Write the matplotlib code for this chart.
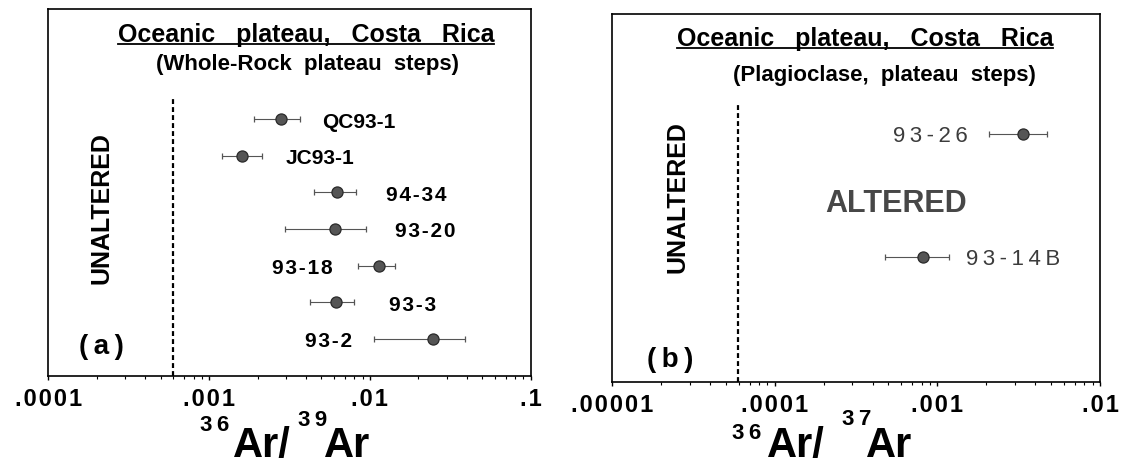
# Oceanic plateau, Costa Rica - 36Ar/39Ar and 36Ar/37Ar of plateau steps

import matplotlib.pyplot as plt
from matplotlib import font_manager
from matplotlib.lines import Line2D
from matplotlib.ticker import NullFormatter

# panel (a): whole-rock plateau steps, 36Ar/39Ar
samples_a = ['QC93-1', 'JC93-1', '94-34', '93-20', '93-18', '93-3', '93-2']
ratio_a = [0.00280, 0.00160, 0.00627, 0.00607, 0.0114, 0.00613, 0.0248]
low_a = [0.00190, 0.00120, 0.00449, 0.00298, 0.00847, 0.00424, 0.0106]
high_a = [0.00368, 0.00212, 0.00819, 0.00942, 0.0143, 0.00796, 0.0392]
row_a = [7, 6, 5, 4, 3, 2, 1]

# panel (b): plagioclase plateau steps, 36Ar/37Ar
samples_b = ['93-26', '93-14B']
ratio_b = [0.00337, 0.000818]
low_b = [0.00207, 0.000475]
high_b = [0.00469, 0.00118]
row_b = [6.75, 3.4]

# unaltered limit (dashed line)
limit_a = 5.95e-4
limit_b = 5.9e-5

ticks_a = [1e-4, 1e-3, 1e-2, 1e-1]
ticklabels_a = ['.0001', '.001', '.01', '.1']
ticks_b = [1e-5, 1e-4, 1e-3, 1e-2]
ticklabels_b = ['.00001', '.0001', '.001', '.01']

# where each sample name sits (side of the error bar, gap in px)
side_a = ['right', 'right', 'right', 'right', 'left', 'right', 'left']
gap_a = [22, 24, 30, 29, 26, 35, 22]
side_b = ['left', 'right']
gap_b = [21, 17]

plt.rcParams['font.family'] = ['Liberation Sans', 'DejaVu Sans']

W, H = 1125, 464
fig = plt.figure(figsize=(W / 100, H / 100), dpi=100)


def fx(px):
    return px / W


def fy(py):
    return 1 - py / H


def spaced(s, sp='\u2009'):
    return sp.join(s)


def hair(s):
    # letter spacing for numeric labels only
    return spaced(s, '\u200a') if s[0].isdigit() or s[0] == '.' else s


fonts = {f.name for f in font_manager.fontManager.ttflist}
if 'Liberation Sans Narrow' in fonts:
    narrow, narrow_size = 'Liberation Sans Narrow', 22
else:
    narrow, narrow_size = 'Liberation Sans', 18


def panel(ax, names, vals, lo, hi, rows, sides, gaps, ticks, labels, limit,
          bold_names):
    xerr = [[v - l for v, l in zip(vals, lo)], [h - v for v, h in zip(vals, hi)]]
    ax.errorbar(vals, rows, xerr=xerr, fmt='o', ms=8, mfc='#555555',
                mec='#2a2a2a', mew=0.9, ecolor='#555555', elinewidth=0.8,
                capsize=2.2, capthick=0.8)
    for name, v, l, h, r, sd, g in zip(names, vals, lo, hi, rows, sides, gaps):
        if bold_names:
            kw = dict(fontsize=15, fontweight='bold', color='black')
            txt = hair(name)
        else:
            kw = dict(fontsize=16, color='#3c3c3c')
            txt = spaced(name)
        if sd == 'right':
            ax.annotate(txt, (h, r), xytext=(g * 0.72, -1.5),
                        textcoords='offset points', ha='left', va='center', **kw)
        else:
            ax.annotate(txt, (l, r), xytext=(-g * 0.72, -1.5),
                        textcoords='offset points', ha='right', va='center', **kw)

    ax.axvline(limit, ymin=0, ymax=0.755, color='black', lw=1.6,
               ls=(0, (2.2, 1.4)))

    ax.set_xscale('log')
    ax.set_xlim(ticks[0], ticks[-1])
    ax.set_ylim(0, 10)
    ax.set_yticks([])
    ax.set_xticks(ticks, [hair(t) for t in labels])
    ax.xaxis.set_minor_formatter(NullFormatter())
    ax.tick_params(axis='x', which='major', direction='out', length=3,
                   width=1, pad=5, labelsize=17)
    ax.tick_params(axis='x', which='minor', direction='out', length=1.8,
                   width=0.8)
    for lbl in ax.get_xticklabels():
        lbl.set_fontweight('bold')
    for sp in ax.spines.values():
        sp.set_linewidth(1.2)


ax1 = fig.add_axes([fx(48.3), fy(376.5), (530.7 - 48.3) / W, 366.5 / H])
ax2 = fig.add_axes([fx(612.3), fy(382.7), (1100 - 612.3) / W, 367.7 / H])

panel(ax1, samples_a, ratio_a, low_a, high_a, row_a, side_a, gap_a,
      ticks_a, ticklabels_a, limit_a, True)
panel(ax2, samples_b, ratio_b, low_b, high_b, row_b, side_b, gap_b,
      ticks_b, ticklabels_b, limit_b, False)

# titles
titles = []
for cx, base in [(306, 42), (865, 46)]:
    t = fig.text(fx(cx), fy(base), 'Oceanic   plateau,   Costa   Rica',
                 ha='center', va='baseline', fontsize=18, fontweight='bold')
    titles.append((t, base))
fig.text(fx(307), fy(70), '(Whole-Rock  plateau  steps)', ha='center',
         va='baseline', fontsize=16, fontweight='bold')
fig.text(fx(884), fy(81), '(Plagioclase,  plateau  steps)', ha='center',
         va='baseline', fontsize=16, fontweight='bold')

# side labels
fig.text(fx(101), fy(208), 'UNALTERED', rotation=90, ha='center', va='center',
         fontsize=narrow_size, fontweight='bold', family=narrow)
fig.text(fx(677), fy(197), 'UNALTERED', rotation=90, ha='center', va='center',
         fontsize=narrow_size, fontweight='bold', family=narrow)
fig.text(fx(101), fy(347), spaced('(a)'), ha='center', va='center',
         fontsize=20, fontweight='bold')
fig.text(fx(670), fy(360), spaced('(b)'), ha='center', va='center',
         fontsize=20, fontweight='bold')
fig.text(fx(896), fy(204), 'ALTERED', ha='center', va='center', fontsize=22,
         fontweight='bold', color='#474747')

# x axis labels built from pieces
for parts in [[('36', 200, 431, 16), ('Ar/', 233, 457, 30),
               ('39', 298, 426, 16), ('Ar', 324, 457, 30)],
              [('36', 732, 439, 16), ('Ar/', 767, 457, 30),
               ('37', 842, 425, 16), ('Ar', 866, 457, 30)]]:
    for s, x, y, size in parts:
        fig.text(fx(x), fy(y), spaced(s) if size < 20 else s, ha='left',
                 va='baseline', fontsize=size, fontweight='bold')

# underline the titles
fig.canvas.draw()
r = fig.canvas.get_renderer()
for t, base in titles:
    bb = t.get_window_extent(r)
    fig.add_artist(Line2D([bb.x0 / W, bb.x1 / W], [fy(base + 3), fy(base + 3)],
                          transform=fig.transFigure, color='black', lw=1.3))

fig.savefig('out.png', dpi=100)
